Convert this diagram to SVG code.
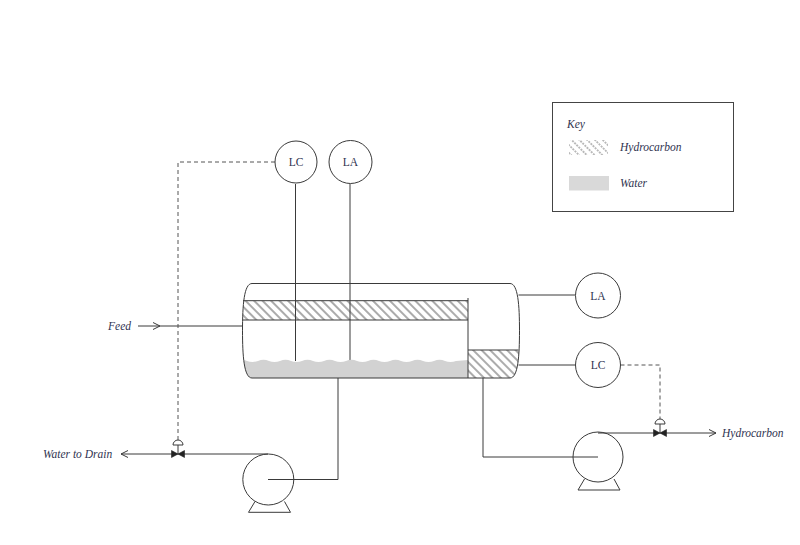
<svg xmlns="http://www.w3.org/2000/svg" width="800" height="545" viewBox="0 0 800 545">
<style>
.ln{fill:none;stroke:#3a3a3a;stroke-width:1}
.dash{fill:none;stroke:#555;stroke-width:1;stroke-dasharray:4 3}
.inst{fill:#fff;stroke:#3a3a3a;stroke-width:1}
.lbl{font-family:"Liberation Serif","Times New Roman",serif;font-size:11.5px;fill:#2f3350}
.it{font-style:italic}
.vbody{fill:#222;stroke:#222;stroke-width:0.6}
</style>
<defs>
<pattern id="hatch" width="6" height="6" patternUnits="userSpaceOnUse" patternTransform="rotate(-45)">
<line x1="3" y1="0" x2="3" y2="6" stroke="#444" stroke-width="0.9"/>
</pattern>
<pattern id="hatchKey" width="5.5" height="6" patternUnits="userSpaceOnUse" patternTransform="rotate(-45)">
<line x1="2.75" y1="0" x2="2.75" y2="6" stroke="#555" stroke-width="0.8" stroke-dasharray="2 1"/>
</pattern>
<clipPath id="vclip">
<path d="M252,283.5 H510 C518,283.5 519.5,305 519.5,330.8 C519.5,356 518,378 510,378 H252 C244,378 242.5,356 242.5,330.8 C242.5,305 244,283.5 252,283.5 Z"/>
</clipPath>
</defs>

<g id="connectors">
<path class="ln" d="M138,326 H243"/>
<path class="ln" d="M153,322.5 L160,326 L153,329.5"/>
<path class="ln" d="M295.5,184 V361"/>
<path class="ln" d="M350,184 V360"/>
<path class="dash" d="M275,162 H178 V440"/>
<path class="ln" d="M338,378 V479.5 H268"/>
<path class="ln" d="M268,454 H121"/>
<path class="ln" d="M128,450.5 L121,454 L128,457.5"/>
<path class="ln" d="M518.5,295 H575.5"/>
<path class="ln" d="M518.5,365 H575.5"/>
<path class="dash" d="M620.5,365 H660 V419"/>
<path class="ln" d="M483,378 V457 H598"/>
<path class="ln" d="M598,433 H716"/>
<path class="ln" d="M709,429.5 L716,433 L709,436.5"/>
</g>

<g id="vessel">
<g clip-path="url(#vclip)">
<path d="M236,361 q5.5,-2.5 11,0 q5.5,2 11,0 q5.5,-2.5 11,0 q5.5,2 11,0 q5.5,-2.5 11,0 q5.5,2 11,0 q5.5,-2.5 11,0 q5.5,2 11,0 q5.5,-2.5 11,0 q5.5,2 11,0 q5.5,-2.5 11,0 q5.5,2 11,0 q5.5,-2.5 11,0 q5.5,2 11,0 q5.5,-2.5 11,0 q5.5,2 11,0 q5.5,-2.5 11,0 q5.5,2 11,0 q5.5,-2.5 11,0 q5.5,2 11,0 L468,360 V380 H236 Z" fill="#d2d2d2"/>
<rect x="240" y="300.7" width="228" height="19.3" fill="url(#hatch)"/>
<rect x="468" y="350" width="55" height="30" fill="url(#hatch)"/>
</g>
<path class="ln" d="M243,300.7 H468 M243,320 H468 M468,298 V378 M468,350 H518.5"/>
<path class="ln" d="M252,283.5 H510 C518,283.5 519.5,305 519.5,330.8 C519.5,356 518,378 510,378 H252 C244,378 242.5,356 242.5,330.8 C242.5,305 244,283.5 252,283.5 Z"/>
</g>

<g id="lc1">
<circle class="inst" cx="296" cy="162" r="21"/>
<text class="lbl" x="296" y="166" text-anchor="middle">LC</text>
</g>
<g id="la1">
<circle class="inst" cx="350.5" cy="162" r="21.5"/>
<text class="lbl" x="350.5" y="166" text-anchor="middle">LA</text>
</g>
<g id="la2">
<circle class="inst" cx="598" cy="295.5" r="22.5"/>
<text class="lbl" x="598" y="299.5" text-anchor="middle">LA</text>
</g>
<g id="lc2">
<circle class="inst" cx="598" cy="365" r="22.5"/>
<text class="lbl" x="598" y="369" text-anchor="middle">LC</text>
</g>

<g id="pump1">
<path class="ln" d="M255,501.5 L248.5,512.3 H290.5 L284.5,501.5"/>
<circle class="ln" cx="268.3" cy="479.5" r="25.5"/>
<path class="ln" d="M268.3,479.5 H294"/>
</g>
<g id="pump2">
<path class="ln" d="M584.5,479 L578,490 H620 L614,479"/>
<circle class="ln" cx="598" cy="457" r="25"/>
</g>

<g id="valve1">
<path class="vbody" d="M171.5,450.5 L178,454 L171.5,457.5 Z M184.5,450.5 L178,454 L184.5,457.5 Z"/>
<path class="ln" d="M178,445 V454"/>
<path class="inst" d="M173,445 A5,5 0 0 1 183,445 Z"/>
</g>
<g id="valve2">
<path class="vbody" d="M653.5,429.5 L660,433 L653.5,436.5 Z M666.5,429.5 L660,433 L666.5,436.5 Z"/>
<path class="ln" d="M660,424 V433"/>
<path class="inst" d="M655,424 A5,5 0 0 1 665,424 Z"/>
</g>

<g id="labels">
<text class="lbl it" x="108" y="329.5">Feed</text>
<text class="lbl it" x="43" y="457.5">Water to Drain</text>
<text class="lbl it" x="722" y="436.5">Hydrocarbon</text>
</g>

<g id="key">
<rect x="552.5" y="102.5" width="181" height="109" fill="#fff" stroke="#444" stroke-width="1"/>
<text class="lbl it" x="567" y="128">Key</text>
<rect x="569" y="140" width="39" height="15" fill="url(#hatchKey)"/>
<text class="lbl it" x="620" y="151">Hydrocarbon</text>
<rect x="569" y="176" width="40" height="14.5" fill="#d9d9d9"/>
<text class="lbl it" x="620" y="187">Water</text>
</g>
</svg>
